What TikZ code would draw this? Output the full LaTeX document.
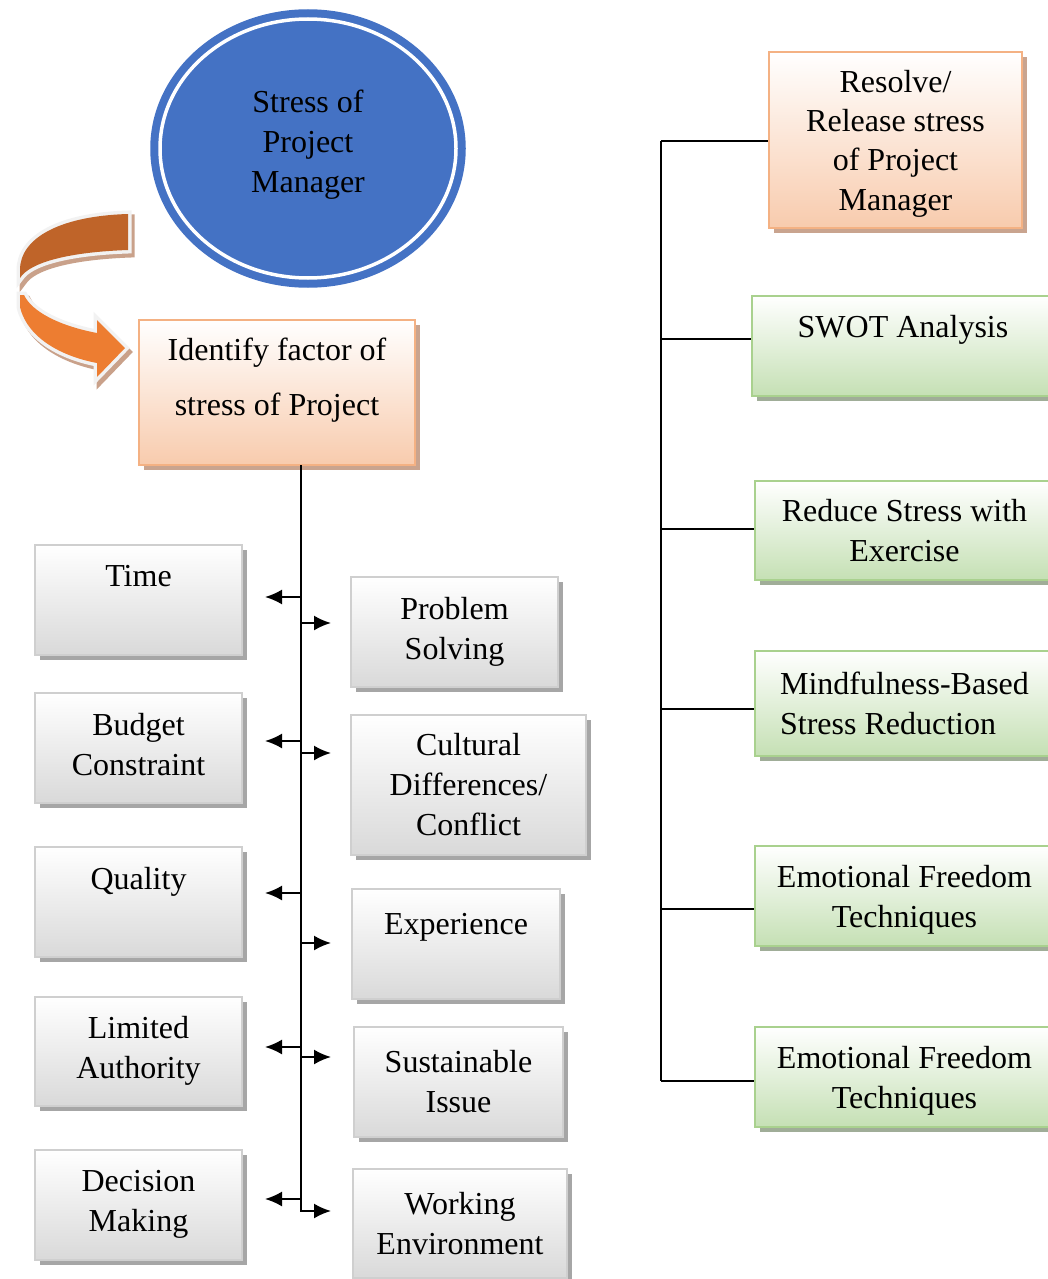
\documentclass[tikz,border=0pt]{standalone}
\usepackage{fontspec}
\setmainfont{Liberation Serif}
\usetikzlibrary{shapes.geometric,shadows,arrows.meta}

\definecolor{pmblue}{HTML}{4472C4}
\definecolor{grayline}{HTML}{CFCFCF}
\definecolor{grayfill}{HTML}{D9D9D9}
\definecolor{grayshadow}{HTML}{A6A6A6}
\definecolor{orline}{HTML}{F4B183}
\definecolor{orfill}{HTML}{F8CBAD}
\definecolor{orshadow}{HTML}{C9A48F}
\definecolor{grline}{HTML}{A9D18E}
\definecolor{grfill}{HTML}{C5E0B4}
\definecolor{grshadow}{HTML}{A0AD98}
\definecolor{arrdark}{HTML}{BF6429}
\definecolor{arrlight}{HTML}{ED7D31}
\definecolor{arrrim}{HTML}{F2F2F2}
\definecolor{arrshadow}{HTML}{C9A18A}

\begin{document}
\begin{tikzpicture}[x=1pt,y=-1pt,>={Latex[length=17pt,width=15pt]},
  box/.style={rectangle,inner sep=0pt,align=center,line width=2pt,
    font=\fontsize{32}{40}\selectfont},
  graybox/.style={box,draw=grayline,top color=white,bottom color=grayfill,
    drop shadow={shadow xshift=5pt,shadow yshift=-5pt,fill=grayshadow,opacity=1}},
  orbox/.style={box,draw=orline,top color=white,bottom color=orfill,
    drop shadow={shadow xshift=5pt,shadow yshift=-5pt,fill=orshadow,opacity=1}},
  grbox/.style={box,draw=grline,top color=white,bottom color=grfill,
    drop shadow={shadow xshift=5pt,shadow yshift=-5pt,fill=grshadow,opacity=1}},
  rim/.style={line width=7pt,line join=miter},
  trunk/.style={line width=2pt},
  branch/.style={line width=1.6pt}]
\useasboundingbox (0,0) rectangle (1048,1279);

% curved arrow
\begin{scope}[xshift=3pt,yshift=-4pt]
\draw[rim,arrshadow,fill=arrshadow] (128,214) .. controls (60,216) and (20,238) .. (20,270) -- (20,278)
  .. controls (30,262) and (70,252) .. (128,250) -- cycle;
\draw[rim,arrshadow,fill=arrshadow] (20,295) -- (20,307) .. controls (28,340) and (65,357) .. (97,363)
  -- (97,377) -- (125,348) -- (97,320) -- (97,333)
  .. controls (60,326) and (32,312) .. (24,295) -- cycle;
\end{scope}
\draw[rim,arrrim,fill=arrrim]
  (128,214) .. controls (60,216) and (20,238) .. (20,270) -- (20,278)
  .. controls (30,262) and (70,252) .. (128,250) -- cycle;
\draw[rim,arrrim,fill=arrrim]
  (20,295) -- (20,307) .. controls (28,340) and (65,357) .. (97,363)
  -- (97,377) -- (125,348) -- (97,320) -- (97,333)
  .. controls (60,326) and (32,312) .. (24,295) -- cycle;
\fill[arrdark] (128,214) .. controls (60,216) and (20,238) .. (20,270) -- (20,278)
  .. controls (30,262) and (70,252) .. (128,250) -- cycle;
\fill[arrlight] (20,295) -- (20,307) .. controls (28,340) and (65,357) .. (97,363)
  -- (97,377) -- (125,348) -- (97,320) -- (97,333)
  .. controls (60,326) and (32,312) .. (24,295) -- cycle;

% nodes
\node[ellipse,inner sep=0pt,minimum width=296pt,minimum height=259pt,
  fill=pmblue,draw=pmblue,line width=8pt,double=white,double distance=3.5pt,
  align=center,font=\fontsize{32}{40}\selectfont,text depth=14pt] (stress) at (308,148.5)
  {Stress of\\Project\\Manager};

\node[orbox,minimum width=276pt,minimum height=145pt,text depth=31pt] (identify) at (277,392.5)
  {Identify factor of\\[15pt]stress of Project};

\node[graybox,minimum width=207pt,minimum height=110pt,text depth=8pt] (time) at (138.5,600) {Time\\\mbox{}};
\node[graybox,minimum width=207pt,minimum height=110pt,text depth=8pt] (budget) at (138.5,748) {Budget\\Constraint};
\node[graybox,minimum width=207pt,minimum height=110pt,text depth=8pt] (quality) at (138.5,902) {Quality\\\mbox{}};
\node[graybox,minimum width=207pt,minimum height=109pt,text depth=8pt] (limited) at (138.5,1051.5) {Limited\\Authority};
\node[graybox,minimum width=207pt,minimum height=110pt,text depth=8pt] (decision) at (138.5,1205) {Decision\\Making};

\node[graybox,minimum width=207pt,minimum height=110pt] (problem) at (454.5,632) {Problem\\Solving};
\node[graybox,minimum width=235pt,minimum height=140pt] (cultural) at (468.5,785) {Cultural\\Differences/\\Conflict};
\node[graybox,minimum width=208pt,minimum height=110pt] (experience) at (456,944) {Experience\\\mbox{}};
\node[graybox,minimum width=209pt,minimum height=110pt] (sustainable) at (458.5,1082) {Sustainable\\Issue};
\node[graybox,minimum width=214pt,minimum height=109pt] (working) at (460,1223.5) {Working\\Environment};

\node[orbox,minimum width=253pt,minimum height=176pt,text depth=0pt,
  font=\fontsize{32}{39.3}\selectfont] (resolve) at (895.5,140)
  {Resolve/\\Release stress\\of Project\\Manager};
\node[grbox,minimum width=302pt,minimum height=100pt] (swot) at (903,346) {SWOT Analysis\\\mbox{}};
\node[grbox,minimum width=299pt,minimum height=99pt] (reduce) at (904.5,530.5) {Reduce Stress with\\Exercise};
\node[grbox,minimum width=299pt,minimum height=105pt,align=left] (mindful) at (904.5,703.5)
  {Mindfulness-Based\\Stress Reduction};
\node[grbox,minimum width=299pt,minimum height=100pt,text depth=0pt] (eftone) at (904.5,896) {Emotional Freedom\\Techniques};
\node[grbox,minimum width=299pt,minimum height=100pt,text depth=0pt] (efttwo) at (904.5,1077) {Emotional Freedom\\Techniques};

% left tree
\coordinate (ltop) at (301,465);
\coordinate (lbot) at (301,1212);
\draw[trunk] (ltop) -- (lbot);
\foreach \y [count=\i] in {597,741,893,1047,1199} {
  \coordinate (ls\i) at (301,\y);
  \coordinate (le\i) at (265,\y);
  \draw[trunk,->] (ls\i) -- (le\i);
}
\foreach \y [count=\i] in {623,753,943,1057,1211} {
  \coordinate (rs\i) at (301,\y);
  \coordinate (re\i) at (331,\y);
  \draw[trunk,->] (rs\i) -- (re\i);
}

% right tree
\coordinate (rtop) at (661,141);
\coordinate (rbot) at (661,1081);
\draw[branch] (rtop) -- (rbot);
\foreach \y/\b [count=\i] in {141/resolve,339/swot,529/reduce,709/mindful,909/eftone,1081/efttwo} {
  \coordinate (b\i) at (661,\y);
  \draw[branch] (b\i) -- (b\i -| \b.west);
}
\end{tikzpicture}
\end{document}
